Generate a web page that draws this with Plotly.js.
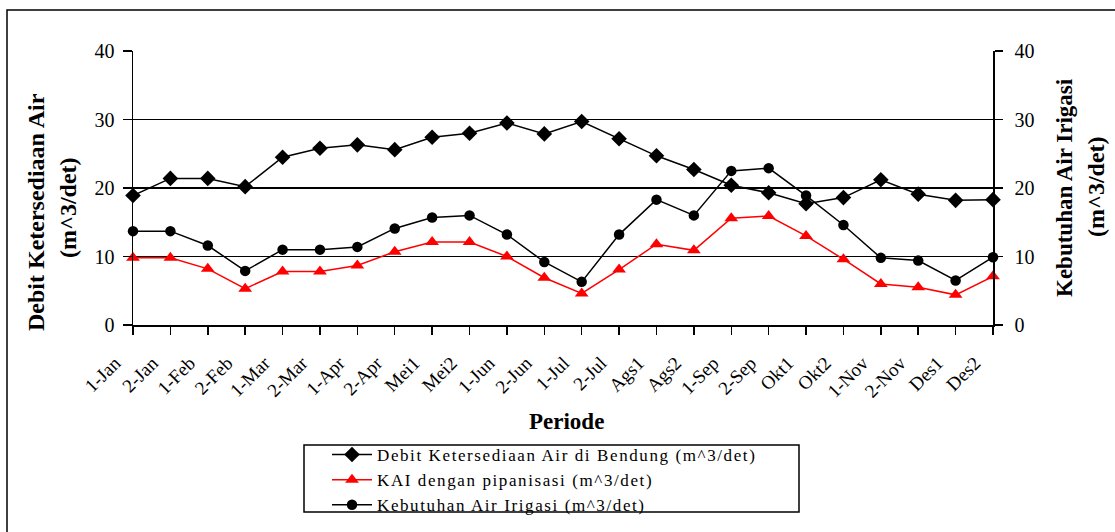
<!DOCTYPE html>
<html>
<head>
<meta charset="utf-8">
<script src="https://cdn.plot.ly/plotly-3.0.1.min.js"></script>
<style>
html,body{margin:0;padding:0;background:#fff;}
#chart{width:1115px;height:532px;}
.legendtext{letter-spacing:1.6px;}
</style>
</head>
<body>
<div id="chart"></div>
<script>
const periods = ["1-Jan","2-Jan","1-Feb","2-Feb","1-Mar","2-Mar","1-Apr","2-Apr","Mei1","Mei2","1-Jun","2-Jun","1-Jul","2-Jul","Ags1","Ags2","1-Sep","2-Sep","Okt1","Okt2","1-Nov","2-Nov","Des1","Des2"];
const debit = [18.9,21.4,21.4,20.2,24.5,25.8,26.3,25.6,27.4,28.0,29.5,27.9,29.7,27.2,24.7,22.7,20.4,19.3,17.7,18.6,21.2,19.1,18.2,18.3];
const kai = [9.8,9.8,8.2,5.3,7.8,7.8,8.7,10.7,12.1,12.1,10.0,6.9,4.6,8.1,11.8,10.9,15.6,15.9,13.0,9.6,6.0,5.5,4.4,7.1];
const kebutuhan = [13.7,13.7,11.6,7.9,11.0,11.0,11.4,14.1,15.7,16.0,13.2,9.2,6.3,13.2,18.3,16.0,22.5,22.9,18.9,14.6,9.8,9.4,6.5,9.9];
const yTicks = [0,10,20,30,40];

const serif = "Liberation Serif, Times New Roman, serif";

const traces = [
  {x: periods, y: debit, name: "Debit Ketersediaan Air di Bendung (m^3/det)", type: "scatter", mode: "lines+markers",
   line: {color: "#000", width: 1.5}, marker: {symbol: "diamond", size: 12, color: "#000"}, cliponaxis: false},
  {x: periods, y: kai, name: "KAI dengan pipanisasi (m^3/det)", type: "scatter", mode: "lines+markers",
   line: {color: "#ff0000", width: 1.5}, marker: {symbol: "triangle-up", size: 12, color: "#ff0000"}, cliponaxis: false},
  {x: periods, y: kebutuhan, name: "Kebutuhan Air Irigasi (m^3/det)", type: "scatter", mode: "lines+markers", yaxis: "y2",
   line: {color: "#000", width: 1.5}, marker: {symbol: "circle", size: 10.5, color: "#000"}, cliponaxis: false}
];

const px = v => (v - 133) / 860;
const py = v => (325 - v) / 274;

const layout = {
  width: 1115, height: 532,
  margin: {l: 133, r: 122, t: 51, b: 207, autoexpand: false},
  paper_bgcolor: "#fff", plot_bgcolor: "#fff",
  font: {family: serif, color: "#000"},
  showlegend: true,
  xaxis: {
    type: "category", categoryorder: "array", categoryarray: periods,
    range: [0, 23], tickangle: -45, tickfont: {size: 19, family: serif},
    ticklabelshift: -18, ticklabelstandoff: 10,
    showline: true, linecolor: "#000", linewidth: 1.5,
    ticks: "outside", ticklen: 8, tickcolor: "#000", tickwidth: 1.5,
    showgrid: false, zeroline: false, fixedrange: true
  },
  yaxis: {
    range: [0, 40], tickvals: yTicks, ticktext: yTicks.map(String),
    tickfont: {size: 20, family: serif}, ticklabelstandoff: 4,
    showline: true, linecolor: "#000", linewidth: 1.5,
    ticks: "outside", ticklen: 9, tickcolor: "#000", tickwidth: 1.5,
    showgrid: true, gridcolor: "#000", gridwidth: 1.5, zeroline: false
  },
  yaxis2: {
    range: [0, 40], tickvals: yTicks, ticktext: yTicks.map(String),
    overlaying: "y", side: "right",
    tickfont: {size: 20, family: serif}, ticklabelstandoff: 8,
    showline: true, linecolor: "#000", linewidth: 1.5,
    ticks: "outside", ticklen: 8, tickcolor: "#000", tickwidth: 1.5,
    showgrid: false, zeroline: false
  },
  legend: {
    x: px(327), y: py(437), xanchor: "left", yanchor: "top",
    bgcolor: "rgba(0,0,0,0)", borderwidth: 0,
    font: {size: 17, family: serif, color: "#000"},
    tracegroupgap: 0, itemwidth: 40
  },
  shapes: [
    {type: "rect", xref: "paper", yref: "paper", x0: px(7), x1: px(1125), y0: py(545), y1: py(10),
     line: {color: "#000", width: 1.5}, fillcolor: "rgba(0,0,0,0)"},
    {type: "rect", xref: "paper", yref: "paper", x0: px(304), x1: px(799), y0: py(512), y1: py(445),
     line: {color: "#000", width: 1.5}, fillcolor: "rgba(0,0,0,0)"}
  ],
  annotations: [
    {text: "<b>Periode</b>", xref: "paper", yref: "paper", x: px(566), y: py(421), showarrow: false,
     xanchor: "center", yanchor: "middle", font: {size: 23, family: serif}},
    {text: "<b>Debit Ketersediaan Air</b>", xref: "paper", yref: "paper", x: px(36), y: py(212), showarrow: false,
     textangle: -90, xanchor: "center", yanchor: "middle", font: {size: 24, family: serif}},
    {text: "<b>(m^3/det)</b>", xref: "paper", yref: "paper", x: px(68), y: py(208), showarrow: false,
     textangle: -90, xanchor: "center", yanchor: "middle", font: {size: 24, family: serif}},
    {text: "<b>Kebutuhan Air Irigasi</b>", xref: "paper", yref: "paper", x: px(1064), y: py(188), showarrow: false,
     textangle: -90, xanchor: "center", yanchor: "middle", font: {size: 23, family: serif}},
    {text: "<b>(m^3/det)</b>", xref: "paper", yref: "paper", x: px(1096), y: py(187), showarrow: false,
     textangle: -90, xanchor: "center", yanchor: "middle", font: {size: 24, family: serif}}
  ]
};

Plotly.newPlot("chart", traces, layout, {displayModeBar: false, staticPlot: true});
</script>
</body>
</html>
